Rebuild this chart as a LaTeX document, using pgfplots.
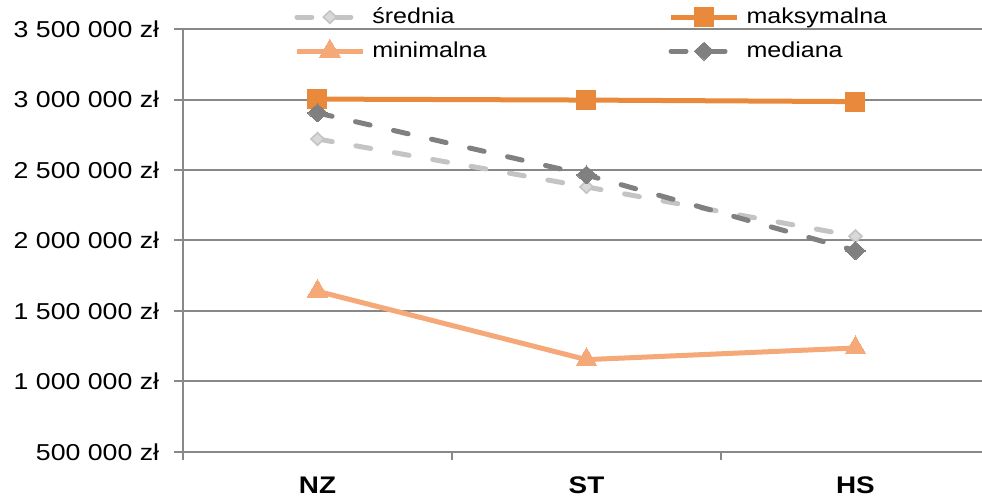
\documentclass[border=0pt]{standalone}
\usepackage{fontspec}
\setmainfont{Liberation Sans}[FakeStretch=1.16]
\usepackage{pgfplots}
\pgfplotsset{compat=1.18}

\definecolor{maxc}{RGB}{233,137,59}
\definecolor{minc}{RGB}{245,168,120}
\definecolor{avgc}{RGB}{196,196,196}
\definecolor{avgfill}{RGB}{217,217,217}
\definecolor{medc}{RGB}{128,128,128}
\definecolor{axc}{RGB}{136,136,136}

\begin{document}
\begin{tikzpicture}
\begin{axis}[
    scale only axis,
    width=399.5pt, height=211.5pt,
    xmin=-0.5, xmax=2.4703,
    ymin=500000, ymax=3500000,
    scaled y ticks=false,
    axis lines*=left,
    axis line style={axc, line width=1pt},
    every tick/.style={axc, line width=1pt},
    tick align=outside,
    major tick length=4.25pt,
    ymajorgrids,
    grid style={axc, line width=1pt},
    xtick={-0.5,0.5,1.5},
    xticklabels={},
    extra x ticks={0,1,2},
    extra x tick labels={NZ,ST,HS},
    extra x tick style={tick style={draw=none},
        xticklabel style={font=\bfseries\fontsize{12}{14}\selectfont, anchor=north, inner sep=0pt, yshift=-8pt}},
    ytick={500000,1000000,1500000,2000000,2500000,3000000,3500000},
    yticklabels={500 000 zł,1 000 000 zł,1 500 000 zł,2 000 000 zł,2 500 000 zł,3 000 000 zł,3 500 000 zł},
    yticklabel style={font=\fontsize{11.5}{13}\selectfont, anchor=east, inner sep=0pt, xshift=-7.5pt},
    legend columns=2,
    legend cell align=left,
    legend style={draw=none, fill=none, inner sep=0pt,
        at={(0.1389,0.988)}, anchor=west,
        font=\fontsize{10.8}{12}\selectfont,
        nodes={inner sep=0pt, text height=8pt, text depth=2pt},
        row sep=6pt,
        /tikz/every odd column/.append style={column sep=3.5pt},
        /tikz/every even column/.append style={column sep=91pt}},
    legend image code/.code={
        \draw[mark repeat=2,mark phase=2,#1] plot coordinates {(0pt,0pt) (16.5pt,0pt) (33pt,0pt)};},
]
% srednia
\addplot[avgc, line width=2.5pt, dash pattern=on 7.5pt off 12pt, line cap=round,
    mark=diamond*, mark size=3.1pt, mark options={solid, fill=avgfill, draw=avgc, line width=0.8pt, xscale=1.4}]
    coordinates {(0,2720000) (1,2380000) (2,2030000)};
\addlegendentry{średnia}
% maksymalna
\addplot[maxc, line width=2.5pt, mark=square*, mark size=4.75pt, mark options={solid, fill=maxc, draw=maxc, line width=0pt}]
    coordinates {(0,3003000) (1,2996000) (2,2985000)};
\addlegendentry{maksymalna}
% minimalna
\addplot[minc, line width=2.5pt, mark=triangle*, mark size=6pt, mark options={solid, fill=minc, draw=minc, line width=0pt}]
    coordinates {(0,1640000) (1,1155000) (2,1238000)};
\addlegendentry{minimalna}
% mediana
\addplot[medc, line width=2.5pt, dash pattern=on 7.5pt off 12pt, line cap=round,
    mark=diamond*, mark size=4.5pt, mark options={solid, fill=medc, draw=medc, line width=0pt, xscale=1.47}]
    coordinates {(0,2905000) (1,2465000) (2,1928000)};
\addlegendentry{mediana}
\end{axis}
\pgfresetboundingbox
\path[use as bounding box] (-91.5pt,-23pt) rectangle (399.5pt,226pt);
\end{tikzpicture}
\end{document}
